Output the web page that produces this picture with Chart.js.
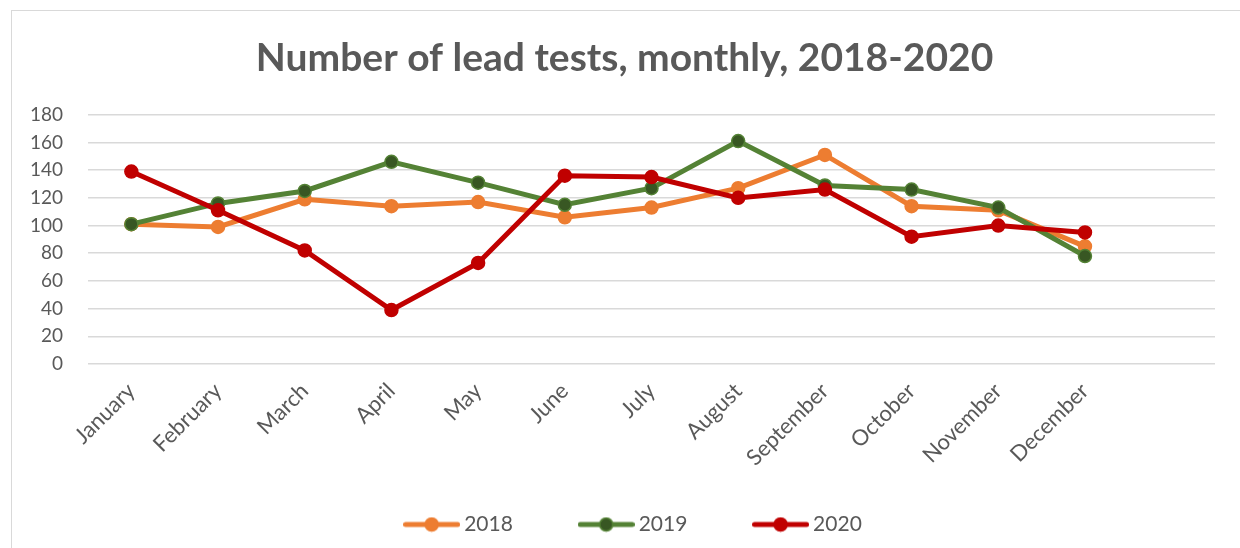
<!DOCTYPE html>
<html>
<head>
<meta charset="utf-8">
<script src="https://cdn.jsdelivr.net/npm/chart.js@4.4.1/dist/chart.umd.min.js"></script>
<style>
  body { margin: 0; background: #fff; }
  #wrap { position: relative; width: 1240px; height: 548px; overflow: hidden; }
  #frame { position: absolute; left: 11px; top: 10px; width: 1300px; height: 600px; border: 1px solid #d9d9d9; }
  #chart { position: absolute; left: 0; top: 0; }
</style>
</head>
<body>
<div id="wrap">
  <div id="frame"></div>
  <canvas id="chart" width="1240" height="548"></canvas>
</div>
<script>
// Data
const months = ["January", "February", "March", "April", "May", "June", "July",
                "August", "September", "October", "November", "December", ""];
const tests2018 = [101, 99, 119, 114, 117, 106, 113, 127, 151, 114, 111, 85];
const tests2019 = [101, 116, 125, 146, 131, 115, 127, 161, 129, 126, 113, 78];
const tests2020 = [139, 111, 82, 39, 73, 136, 135, 120, 126, 92, 100, 95];
const seriesNames = ["2018", "2019", "2020"];

const textColor = "#595959";
const fontFamily = "Lato, 'Open Sans', sans-serif";

// legend swatch: short line with a marker in the middle
function legendSwatch(line, fill, border) {
    const c = document.createElement("canvas");
    c.width = 57; c.height = 16;
    const g = c.getContext("2d");
    g.strokeStyle = line;
    g.lineWidth = 5;
    g.lineCap = "round";
    g.beginPath(); g.moveTo(2.5, 8); g.lineTo(54.5, 8); g.stroke();
    g.fillStyle = fill;
    g.strokeStyle = border;
    g.lineWidth = 1.5;
    g.beginPath(); g.arc(28.5, 8, 6.5, 0, Math.PI * 2); g.fill(); g.stroke();
    return c;
}

const styles = [
    { line: "#ED7D31", fill: "#ED7D31", border: "#ED7D31" },
    { line: "#548235", fill: "#385723", border: "#548235" },
    { line: "#C00000", fill: "#C00000", border: "#C00000" }
];
const values = [tests2018, tests2019, tests2020];

const datasets = values.map((v, i) => ({
    label: seriesNames[i],
    data: v,
    borderColor: styles[i].line,
    backgroundColor: styles[i].fill,
    pointBackgroundColor: styles[i].fill,
    pointBorderColor: styles[i].border,
    pointBorderWidth: 1.5,
    pointRadius: 6.5,
    borderWidth: 5,
    tension: 0,
    order: 2 - i
}));

// trailing gaps so the legend items sit as far apart as in the reference
const legendGaps = ["\u2003\u2003\u2003", "\u2003\u2003\u2003", "\u2003\u2003"];

new Chart(document.getElementById("chart"), {
    type: "line",
    data: { labels: months, datasets: datasets },
    options: {
        responsive: false,
        animation: false,
        layout: { padding: { left: 0, right: 25, top: 0, bottom: 3 } },
        plugins: {
            tooltip: { enabled: false },
            title: {
                display: true,
                // leading space nudges the centred title right, as in the reference
                text: "\u2003\u2009Number of lead tests, monthly, 2018-2020",
                color: textColor,
                font: { family: fontFamily, size: 39, weight: "bold" },
                padding: { top: 35, bottom: 33 }
            },
            legend: {
                position: "bottom",
                fullSize: false,
                labels: {
                    usePointStyle: true,
                    pointStyleWidth: 44,
                    padding: 24,
                    color: textColor,
                    font: { family: fontFamily, size: 21 },
                    generateLabels: (chart) => chart.data.datasets.map((ds, i) => ({
                        text: ds.label + legendGaps[i],
                        datasetIndex: i,
                        fillStyle: ds.backgroundColor,
                        strokeStyle: ds.borderColor,
                        fontColor: textColor,
                        lineWidth: 0,
                        hidden: false,
                        pointStyle: legendSwatch(styles[i].line, styles[i].fill, styles[i].border)
                    }))
                }
            }
        },
        scales: {
            x: {
                offset: true,
                grid: { display: false, drawTicks: false },
                border: { display: false },
                afterFit: (s) => { s.height = 126; },
                ticks: {
                    autoSkip: false,
                    minRotation: 45,
                    maxRotation: 45,
                    padding: 14,
                    color: textColor,
                    font: { family: fontFamily, size: 22 }
                }
            },
            y: {
                min: 0,
                max: 180,
                afterFit: (s) => { s.width = 88; },
                grid: { color: "#d9d9d9", lineWidth: 1.5, drawTicks: false },
                border: { display: false },
                ticks: {
                    stepSize: 20,
                    padding: 25,
                    color: textColor,
                    font: { family: fontFamily, size: 19 }
                }
            }
        }
    }
});
</script>
</body>
</html>
